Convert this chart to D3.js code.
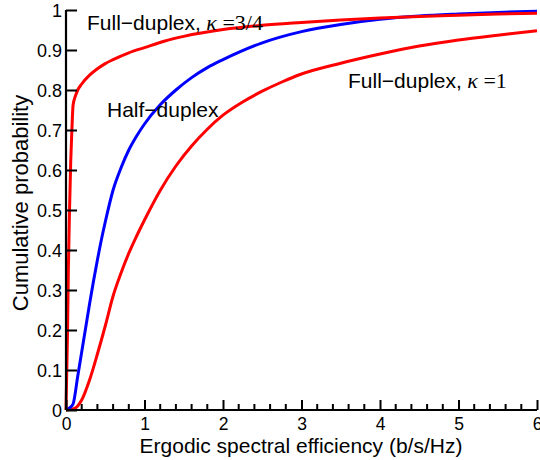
<!DOCTYPE html>
<html><head><meta charset="utf-8">
<script src="https://cdn.jsdelivr.net/npm/d3@7"></script>
<style>body{margin:0;background:#fff}svg{display:block}text{font-family:"Liberation Sans",Arial,sans-serif}</style>
</head><body>
<script>
const xTicks = [0,1,2,3,4,5,6];
const yTicks = [0,0.1,0.2,0.3,0.4,0.5,0.6,0.7,0.8,0.9,1];
const yTickLabels = ["0","0.1","0.2","0.3","0.4","0.5","0.6","0.7","0.8","0.9","1"];
// Full-duplex, kappa = 3/4
const fd34X = [0,0.01,0.02,0.03,0.045,0.06,0.075,0.09,0.12,0.15,0.2,0.3,0.4,0.5,0.6,0.8,1.0,1.25,1.5,2.0,2.5,3.0,3.5,4.0,4.5,5.0,5.5,6.0];
const fd34Y = [0,0.1,0.2,0.35,0.5,0.62,0.7,0.762,0.785,0.8,0.815,0.837,0.853,0.866,0.876,0.893,0.906,0.922,0.934,0.951,0.962,0.969,0.975,0.98,0.984,0.987,0.99,0.992];
// Half-duplex
const hdX = [0,0.05,0.09,0.15,0.2,0.25,0.3,0.35,0.4,0.45,0.5,0.6,0.7,0.8,0.9,1.0,1.2,1.4,1.6,1.8,2.0,2.5,3.0,3.5,4.0,4.5,5.0,5.5,6.0];
const hdY = [0,0.006,0.015,0.085,0.145,0.205,0.265,0.322,0.375,0.425,0.47,0.55,0.605,0.65,0.685,0.715,0.763,0.8,0.831,0.856,0.876,0.918,0.946,0.964,0.977,0.985,0.99,0.994,0.997];
// Full-duplex, kappa = 1
const fd1X = [0,0.1,0.2,0.3,0.4,0.5,0.6,0.7,0.8,0.9,1.0,1.2,1.4,1.6,1.8,2.0,2.25,2.5,2.75,3.0,3.5,4.0,4.5,5.0,5.5,6.0];
const fd1Y = [0,0.003,0.025,0.075,0.14,0.21,0.285,0.342,0.392,0.435,0.475,0.549,0.61,0.66,0.702,0.737,0.77,0.797,0.82,0.84,0.867,0.89,0.91,0.925,0.937,0.948];
const series = [
  {x: fd1X, y: fd1Y, color: "#ff0000"},
  {x: hdX, y: hdY, color: "#0000ff"},
  {x: fd34X, y: fd34Y, color: "#ff0000"}
];
const W = 540, H = 460;
const svg = d3.select("body").append("svg").attr("width", W).attr("height", H);
const x = d3.scaleLinear().domain([0,6]).range([66,537]);
const y = d3.scaleLinear().domain([0,1]).range([410,10]);

// curves
const line = d3.line().x(d => x(d[0])).y(d => y(d[1])).curve(d3.curveMonotoneX);
series.forEach(s => {
  svg.append("path").datum(s.x.map((v,i)=>[v,s.y[i]]))
    .attr("d", line).attr("fill","none").attr("stroke", s.color)
    .attr("stroke-width", 3).attr("stroke-linejoin","round");
});

// x axis
const minor = d3.range(0, 6.001, 0.2).filter(v => Math.abs(v - Math.round(v)) > 1e-6);
const gx = svg.append("g").attr("transform","translate(0,410)");
gx.call(d3.axisBottom(x).tickValues(xTicks).tickSize(-10).tickPadding(0).tickFormat(d3.format("d")));
gx.selectAll(".tick line").attr("stroke-width",2);
gx.selectAll("line.minor").data(minor).enter().append("line").attr("class","minor")
  .attr("x1", d=>x(d)).attr("x2", d=>x(d)).attr("y1",0).attr("y2",-6)
  .attr("stroke","#000").attr("stroke-width",2);
gx.select(".domain").attr("d","M66,0H537").attr("stroke-width",2.2);
gx.selectAll(".tick text").attr("font-size",17.5).attr("fill","#000").attr("y",20).attr("dy",0);

// y axis
const gy = svg.append("g").attr("transform","translate(66,0)");
gy.call(d3.axisLeft(y).tickValues(yTicks).tickSize(-11).tickPadding(4).tickFormat((d,i)=>yTickLabels[i]));
gy.selectAll(".tick line").attr("stroke-width",2);
gy.select(".domain").attr("d","M0,10V410").attr("stroke-width",2.2);
gy.selectAll(".tick text").attr("font-size",18).attr("fill","#000").attr("dy","0.36em");

// axis titles
svg.append("text").attr("x",301).attr("y",453).attr("text-anchor","middle")
  .attr("font-size",21).text("Ergodic spectral efficiency (b/s/Hz)");
svg.append("text").attr("transform","translate(28,203) rotate(-90)").attr("text-anchor","middle")
  .attr("font-size",22).text("Cumulative probability");

// annotations
function label(xp, yp, main, kappa) {
  const t = svg.append("text").attr("x",xp).attr("y",yp).attr("font-size",21).attr("fill","#000");
  t.append("tspan").text(main);
  if (kappa) {
    t.append("tspan").attr("font-family","'Liberation Serif',serif").attr("font-style","italic").attr("font-size",22).text(" \u03BA");
    t.append("tspan").attr("font-family","'Liberation Serif',serif").attr("font-size",22).text(" =" + kappa);
  }
}
label(87, 30, "Full\u2212duplex,", "3/4");
label(107, 117, "Half\u2212duplex");
label(348, 88, "Full\u2212duplex,", "1");
</script>
</body></html>
